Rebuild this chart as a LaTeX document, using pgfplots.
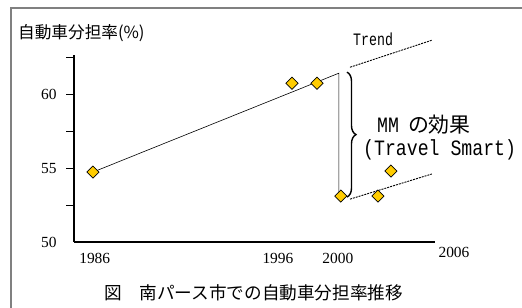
\documentclass[border=0pt]{standalone}
\usepackage{fontspec}
\setmainfont{Liberation Serif}
\newfontfamily\jp{Noto Sans CJK JP}
\newfontfamily\hw[FakeStretch=0.83]{Liberation Mono}
\newfontfamily\hwn[FakeStretch=0.76]{Liberation Mono}
\usepackage{pgfplots}
\pgfplotsset{compat=1.18}
\usetikzlibrary{decorations.pathreplacing}
\definecolor{mk}{HTML}{FFCC00}
\definecolor{fr}{HTML}{808080}
\begin{document}
\begin{tikzpicture}[x=1bp,y=1bp]
\path[use as bounding box] (0,0) rectangle (522,307);
\draw[fr, line width=1.5bp] (11,-5) -- (11,299) -- (530,299);
\begin{axis}[
  at={(74bp,65bp)}, anchor=south west,
  width=361bp, height=187bp, scale only axis,
  xmin=1984.92, xmax=2005.47, ymin=50, ymax=62.65,
  axis lines=left, axis line style={-, line width=1.1bp},
  clip=false,
  xtick={1986.1,1996.53,1999.94}, xticklabels={1986,1996,2000},
  ytick={52.5,55,57.5,60,62.5}, yticklabels={,55,,60,},
  extra y ticks={50}, extra y tick labels={50},
  extra y tick style={tick style={draw=none}},
  tick align=outside, major tick length=8bp,
  x tick style={draw=none},
  y tick style={line width=1bp, black},
  ticklabel style={font=\fontsize{15.5}{16}\selectfont},
  yticklabel style={xshift=-6bp},
  /pgf/number format/assume math mode=true,
]
\addplot[black, line width=0.6bp] coordinates {(1986,54.73) (2000.0,61.42) (2000.0,53.31)};
\addplot[black, line width=0.9bp, dash pattern=on 2bp off 1bp] coordinates {(2000.63,61.82) (2005.29,63.65)};
\addplot[black, line width=0.9bp, dash pattern=on 2bp off 1bp] coordinates {(2000.63,52.9) (2005.29,54.6)};
\addplot[only marks, mark=square*, mark size=4.3bp, mark options={rotate=45, fill=mk, draw=black, line width=0.7bp}] coordinates {
(1986,54.73) (1997.33,60.74) (1998.75,60.74) (2000.11,53.11) (2002.22,53.11) (2002.96,54.8)};
\draw[decorate, decoration={brace, amplitude=9bp}, line width=1.4bp] (axis cs:2000.46,61.49) -- (axis cs:2000.46,53.04);
\node[anchor=north, font=\fontsize{15.5}{16}\selectfont] at (axis cs:2006.55,50) [yshift=-2bp] {2006};
\end{axis}
\node[anchor=west, inner sep=0] at (18,274) {\jp\fontsize{16.7}{17}\selectfont 自動車分担率(\%)};
\node[anchor=west, inner sep=0] at (353,268) {\hwn\fontsize{17.5}{18}\selectfont Trend};
\node[anchor=west, inner sep=0] at (377,182) {{\hw\fontsize{22}{22}\selectfont MM}\hspace{9bp}{\jp\fontsize{21}{22}\selectfont の効果}};
\node[anchor=west, inner sep=0] at (363,157) {\hw\fontsize{22}{22}\selectfont (Travel Smart)};
\node[anchor=west, inner sep=0] at (104,14) {\jp\fontsize{17.7}{18}\selectfont 図　南パース市での自動車分担率推移};
\end{tikzpicture}
\end{document}
